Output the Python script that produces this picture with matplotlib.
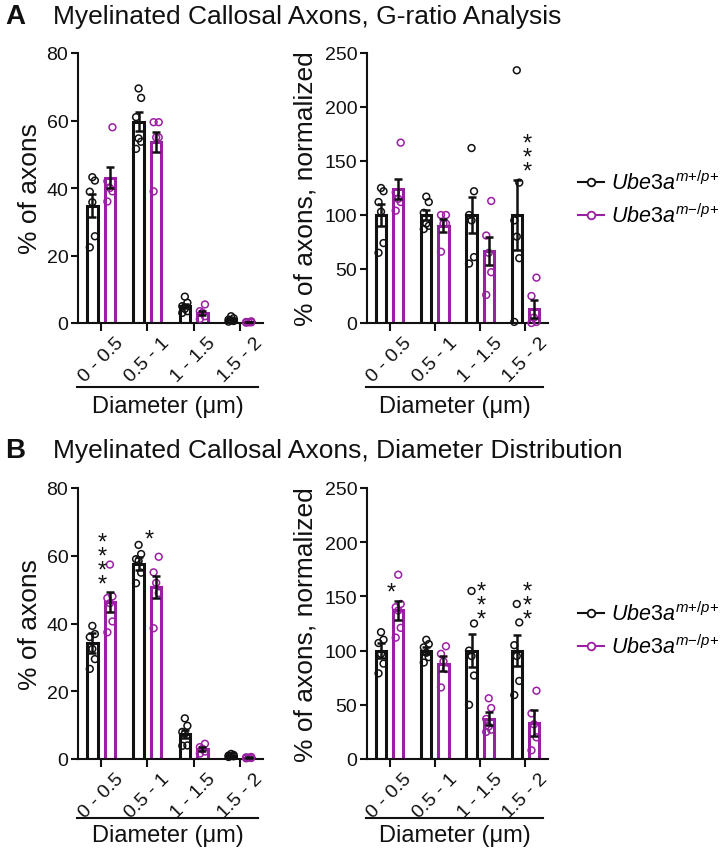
import numpy as np
import matplotlib
matplotlib.use('Agg')
import matplotlib.pyplot as plt
from matplotlib.lines import Line2D

plt.rcParams['font.family'] = ['Liberation Sans', 'DejaVu Sans']
plt.rcParams['mathtext.fontset'] = 'custom'
plt.rcParams['mathtext.it'] = 'Liberation Sans:italic'
plt.rcParams['mathtext.rm'] = 'Liberation Sans'
plt.rcParams['mathtext.sf'] = 'Liberation Sans'

# ---------------- data ----------------
categories = ['0 - 0.5', '0.5 - 1', '1 - 1.5', '1.5 - 2']
genotypes = [r'$\mathit{Ube3a}^{\mathit{m{+}/p{+}}}$', r'$\mathit{Ube3a}^{\mathit{m{-}/p{+}}}$']
titles = ['Myelinated Callosal Axons, G-ratio Analysis',
          'Myelinated Callosal Axons, Diameter Distribution']
panel_letters = ['A', 'B']
xlabel = 'Diameter (\u03bcm)'
ylabels = ['% of axons', '% of axons, normalized']
yticks_pct = [0, 20, 40, 60, 80]
yticks_norm = [0, 50, 100, 150, 200, 250]

# A, left: % of axons (G-ratio analysis)
a_pct_wt_mean = [34.7, 59.7, 5.0, 1.1]
a_pct_wt_sem = [3.4, 2.9, 0.7, 0.3]
a_pct_mut_mean = [43.0, 53.7, 3.0, 0.3]
a_pct_mut_sem = [3.1, 3.0, 0.7, 0.1]
a_pct_wt_pts = [[42.2, 43.2, 38.9, 35.8, 25.7, 22.4],
                [69.5, 66.7, 61.0, 54.7, 53.7, 51.6],
                [7.8, 6.0, 5.0, 4.2, 3.5, 3.0],
                [2.0, 1.4, 1.0, 0.8, 0.6, 0.4]]
a_pct_mut_pts = [[58.0, 42.0, 40.0, 39.0, 36.0],
                 [59.5, 59.5, 55.0, 55.0, 39.0],
                 [5.5, 3.5, 3.0, 2.0, 1.2],
                 [0.5, 0.3, 0.2, 0.2, 0.1]]

# A, right: normalized
a_norm_wt_mean = [100, 100, 100, 100]
a_norm_wt_sem = [10, 5, 17, 32]
a_norm_mut_mean = [124, 90, 67, 13]
a_norm_mut_sem = [9, 6, 13, 8]
a_norm_wt_pts = [[122, 125, 112, 103, 74, 65],
                 [117, 112, 102, 92, 90, 87],
                 [162, 122, 100, 95, 61, 55],
                 [234, 130, 95, 80, 60, 1]]
a_norm_mut_pts = [[167, 121, 115, 112, 104],
                  [100, 100, 92, 92, 66],
                  [113, 81, 65, 47, 26],
                  [42, 25, 5, 1, 0]]

# B, left: % of axons (diameter distribution)
b_pct_wt_mean = [34.2, 57.7, 7.5, 1.0]
b_pct_wt_sem = [2.9, 1.8, 1.2, 0.15]
b_pct_mut_mean = [46.3, 50.8, 3.0, 0.4]
b_pct_mut_sem = [3.0, 3.3, 0.5, 0.1]
b_pct_wt_pts = [[39.3, 36.9, 36.0, 32.5, 29.5, 26.6],
                [63.2, 60.5, 59.0, 58.5, 55.0, 51.9],
                [12.0, 9.8, 8.0, 7.5, 4.0, 3.9],
                [1.5, 1.2, 1.0, 0.8, 0.6, 0.9]]
b_pct_mut_pts = [[57.4, 48.0, 47.5, 46.0, 40.6, 37.4],
                 [59.7, 55.1, 52.0, 49.0, 38.6],
                 [4.5, 3.5, 3.0, 2.2, 1.6],
                 [0.6, 0.5, 0.4, 0.3, 0.2]]

# B, right: normalized
b_norm_wt_mean = [100, 100, 100, 100]
b_norm_wt_sem = [7, 3, 15, 14]
b_norm_mut_mean = [137, 88, 37, 33]
b_norm_mut_sem = [9, 7, 6, 12]
b_norm_wt_pts = [[117, 110, 107, 97, 88, 79],
                 [110, 106, 103, 98, 94, 89],
                 [155, 125, 100, 95, 77, 50],
                 [143, 126, 105, 95, 72, 59]]
b_norm_mut_pts = [[170, 143, 140, 137, 121, 112],
                  [104, 97, 90, 83, 66],
                  [56, 47, 37, 30, 25, 27],
                  [63, 42, 32, 20, 8]]

# significance marks: (group index, number of stars, bottom star value)
a_norm_stars = [(3, 3, 147)]
b_pct_stars = [(0, 4, 53.7), (1, 1, 67)]
b_norm_stars = [(0, 1, 160), (2, 3, 135.6), (3, 3, 135.6)]

# ---------------- style ----------------
BLACK = '#111111'
PURPLE = '#9A1FA3'
W, H = 726, 853
fig = plt.figure(figsize=(W / 100, H / 100), dpi=100)


def px_axes(x0, x1, ytop, ybot):
    return fig.add_axes([x0 / W, 1 - ybot / H, (x1 - x0) / W, (ybot - ytop) / H])


def jitter(vals, spread=0.055):
    order = np.argsort(vals)
    off = np.zeros(len(vals))
    pattern = [-1, 1, 0, -1, 1, 0]
    for rank, idx in enumerate(order):
        off[idx] = pattern[rank % len(pattern)] * spread
    return off


def draw(ax, wt_mean, wt_sem, wt_pts, mut_mean, mut_sem, mut_pts, ymax, yticks,
         ylabel, ylab_x, stars, line_y, lab_y):
    x = np.arange(len(categories))
    off, w = 0.19, 0.23
    for sign, mean, sem, pts, col in [(-1, wt_mean, wt_sem, wt_pts, BLACK),
                                      (1, mut_mean, mut_sem, mut_pts, PURPLE)]:
        xs = x + sign * off
        ax.bar(xs, mean, w, facecolor='white', edgecolor=col, linewidth=2.2, zorder=2)
        for i, p in enumerate(pts):
            p = np.asarray(p, float)
            ax.scatter(xs[i] + jitter(p), p, s=24, facecolors='none', edgecolors=col,
                       linewidths=1.1, zorder=3, clip_on=False)
        ax.errorbar(xs, mean, yerr=sem, fmt='none', ecolor=BLACK, elinewidth=1.8,
                    capsize=3, capthick=1.8, zorder=4)
    ax.set_xlim(-0.5, 3.5)
    ax.set_ylim(0, ymax)
    ax.set_yticks(yticks)
    ax.set_xticks(x)
    ax.set_xticklabels(categories, rotation=45, ha='center')
    for s in ['top', 'right']:
        ax.spines[s].set_visible(False)
    for s in ['left', 'bottom']:
        ax.spines[s].set_linewidth(1.5)
        ax.spines[s].set_color(BLACK)
    ax.tick_params(axis='y', width=1.5, length=5, labelsize=14, colors=BLACK, pad=2)
    ax.tick_params(axis='x', width=1.5, length=6, labelsize=14, colors=BLACK, pad=2)
    ax.set_ylabel(ylabel, fontsize=19, color=BLACK)
    ax.yaxis.set_label_coords(ylab_x, 0.5)
    ax.plot([-0.005, 0.975], [line_y, line_y], transform=ax.transAxes, clip_on=False,
            color=BLACK, lw=1.5)
    ax.text(0.485, lab_y, xlabel, transform=ax.transAxes, ha='center', va='center',
            fontsize=17, color=BLACK)
    fs = 17
    for gi, n, yb in stars:
        ax.annotate('\n'.join(['*'] * n), xy=(gi + 0.03, yb), xytext=(0, -0.57 * fs),
                    textcoords='offset points', ha='center', va='baseline',
                    fontsize=fs, color=BLACK, linespacing=0.53, annotation_clip=False)


axA1 = px_axes(78, 263, 54, 324)
axA2 = px_axes(367, 548, 54, 324)
axB1 = px_axes(78, 263, 489, 760)
axB2 = px_axes(367, 548, 489, 760)

draw(axA1, a_pct_wt_mean, a_pct_wt_sem, a_pct_wt_pts, a_pct_mut_mean, a_pct_mut_sem,
     a_pct_mut_pts, 80, yticks_pct, ylabels[0], -0.195, [], -0.237, -0.307)
draw(axA2, a_norm_wt_mean, a_norm_wt_sem, a_norm_wt_pts, a_norm_mut_mean, a_norm_mut_sem,
     a_norm_mut_pts, 250, yticks_norm, ylabels[1], -0.271, a_norm_stars, -0.237, -0.307)
draw(axB1, b_pct_wt_mean, b_pct_wt_sem, b_pct_wt_pts, b_pct_mut_mean, b_pct_mut_sem,
     b_pct_mut_pts, 80, yticks_pct, ylabels[0], -0.195, b_pct_stars, -0.218, -0.280)
draw(axB2, b_norm_wt_mean, b_norm_wt_sem, b_norm_wt_pts, b_norm_mut_mean, b_norm_mut_sem,
     b_norm_mut_pts, 250, yticks_norm, ylabels[1], -0.271, b_norm_stars, -0.218, -0.280)

for letter, title, yc in zip(panel_letters, titles, [17, 451]):
    fig.text(5 / W, 1 - yc / H, letter, fontsize=20, fontweight='bold', va='center',
             color=BLACK)
    fig.text(53 / W, 1 - yc / H, title, fontsize=19, va='center', color=BLACK)

for yc in [200, 631]:
    handles = [Line2D([0], [0], color=c, marker='o', mfc='white', mec=c, ms=5.5,
                      lw=1.5, mew=1.3) for c in (BLACK, PURPLE)]
    fig.legend(handles, genotypes, loc='center left', bbox_to_anchor=(578 / W, 1 - yc / H),
               frameon=False, fontsize=15.5, handlelength=1.2, handletextpad=0.35,
               labelspacing=0.45, borderpad=0, borderaxespad=0)

fig.savefig('out.png', dpi=100)
